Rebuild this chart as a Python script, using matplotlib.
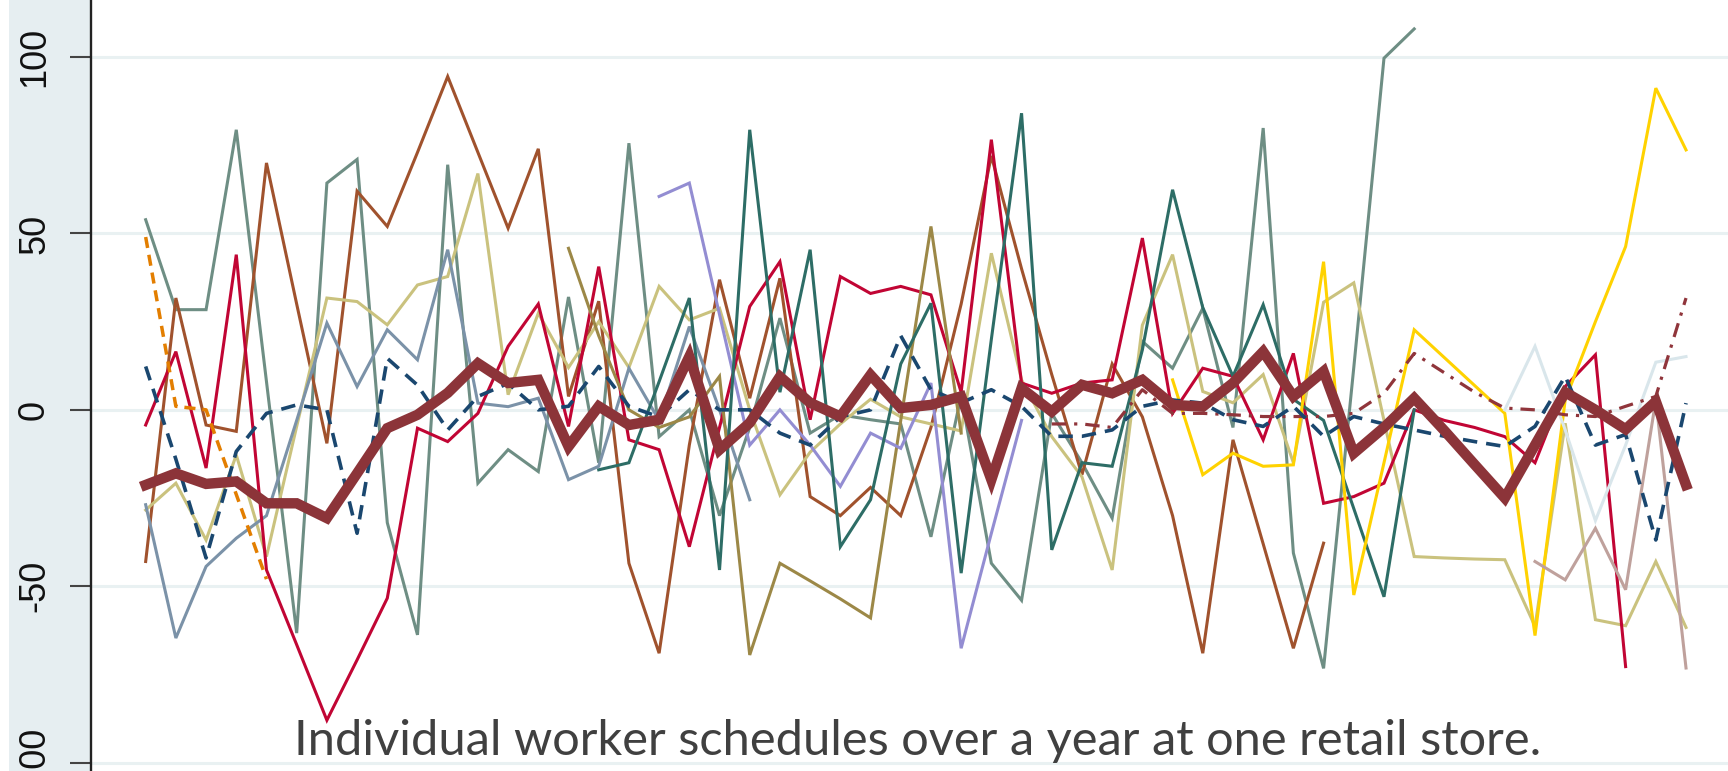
import matplotlib

matplotlib.use("Agg")

import matplotlib.pyplot as plt
import numpy as np
from matplotlib.patches import Rectangle

plt.rcParams["axes.unicode_minus"] = False

N = None
weeks = list(range(52))

# weekly deviation of hours from each worker's own average
mean_line = [-21.3, -18, -21, -20.3, -26.5, -26.5, -30.7, -18, -5.2, -1.4,
             4.8, 13.2, 7.6, 8.5, -10.4, 1, -4.3, -2.8, 15.1, -11.3,
             -3.7, 9.4, 2, -1.9, 9.9, 0.5, 1.4, 3.8, -19.8, 6.1,
             -0.5, 7.1, 4.7, 8.5, 1.4, 0.9, 7.6, 16.5, 3.8, 10.9,
             -12.3, -5, 3.3, -5.9, -15.5, -25, -10, 5, 0, -5.5,
             2.4, -21.3]
navy = [12.3, -14, -42, -11.8, -1, 1.4, 0, -35, 14.6, 7,
        -5.7, 3.8, 7.5, 0, 1, 12.3, 1, -2, 5.7, 0,
        0, -6.6, -10, -2, 0, 21, 5.7, 2, 5.7, 1,
        -7.5, -7.5, -5.7, 1, 2.8, 1.9, -2.8, -4.7, 1, -7.5,
        -1.9, -4, -5.7, -7.5, -9, -10.4, -4.7, 9.5, -10, -7,
        -36.9, 1.9]
orange = [49, 1, 0, -24, -48] + [N] * 47
red = [-4.3, 16.5, -16.5, 44, -45.4, -66.6, -88, -70.9, -53.4, -5.2,
       -9, -1, 18, 30, -4.7, 40.6, -8.5, -11.3, -38.8, -5,
       29.3, 42, -2.8, 37.8, 33, 35, 32.6, 5, 76.6, 7.6,
       4.7, 7.6, 8.5, 48.7, -1, 11.8, 9.5, -8.5, 16, -26.5,
       -24.6, -20.8, 0, -3, -5, -7.6, -15, 6.6, 15.6, -72.8,
       N, N]
sienna = [-43, 31.7, -4.3, -6.1, 70, 30, -9.5, 62, 52, 73,
          94.5, 73, 51.5, 74, 3.8, 30.8, -43.5, -69, -10, 36.9,
          3.3, 37.3, -24.6, -30, -22, -30, -5, 30, 72, 40,
          10, -18.4, 13, -2, -30, -69, -8.5, -38, -67.6, -37.8] + [N] * 12
teal = [53.9, 28.4, 28.4, 79.4, 8, -63.3, 64.3, 71, -32, -63.8,
        69.5, -20.8, -11.3, -17.5, 32, -15, 75.6, -7.6, 0, -30,
        -5, 26, -6.6, -1.4, -2.8, -4, -36, 4, -43.5, -54,
        -1, -15, -30.7, 19.4, 11.8, 28.8, -5, 79.9, -40.6, -73.3,
        12, 99.7, 108] + [N] * 9
khaki = [-28.4, -20.8, -36.9, -12.8, -41.6, -4.7, 31.7, 30.7, 24.1, 35.4,
         37.8, 67, 4.3, 27.4, 12, 25, 12, 35, 25.5, 28.8,
         0, -24.1, -12, -4, 3, -2, -4, -6, 44.4, 8.5,
         -7.6, -19, -45.4, 24, 44, 5.2, 2, 10, -15, 30.5,
         36, -3, -41.6, -42, -42.3, -42.5, -61.4, -3.8, -59.5, -61.2,
         -43, -61.7]
emidblue = [-26.9, -64.7, -44.4, -36.4, -30, -3, 24.6, 6.6, 22.7, 14.2,
            45.4, 1.9, 0.9, 3.3, -19.8, -16, 11.8, -3, 23.6, 0,
            -25.5] + [N] * 31
lavender = [N] * 17 + [60.5, 64.3, 27, -10, 0, -10, -21.7, -6.6, -10.9,
                       7.6, -67.6, -35, -3] + [N] * 22
emerald = [N] * 15 + [-17, -15, 8, 31.7, -45.4,
                      79.4, 5, 45.4, -38.8, -25.5, 13, 30.2, -46.3, 20, 84.1,
                      -39.7, -15, -16, 17, 62.4, 29, 9.5, 29.8, 3, -3,
                      -28, -53, 0] + [N] * 9
olive = [N] * 14 + [45.8, 21, 0, -5, -2, 9.5, -69.5, -43.5, -48.5, -53.6,
                    -59, -3, 52, -6.6] + [N] * 24
gold = [N] * 34 + [8.5, -18.4, -12.3, -16, -15.6, 42, -52.5, -15, 22.7, 14.8,
                   6.9, -1, -64, 2.8, 25, 46.3, 91.2, 73.7]
erose = [N] * 46 + [-43, -48.2, -33.6, -51, 2.8, -73.2]
bluishgray = [N] * 45 + [0, 18, -5.7, -31.4, -10, 13.5, 15.1]
maroon_dash = [N] * 30 + [-4, -4, -5, 5.7, -1, -1, -1.4, -1.9, -1.9, -1.9,
                          -1, 4.7, 16, 10.5, 5, 0.5, 0, -1.4, -1.9, 1,
                          3.8, 31.7]

y_ticks = [100, 50, 0, -50, -100]
caption = "Individual worker schedules over a year at one retail store."

W, H = 1728, 771
fig = plt.figure(figsize=(W / 100, H / 100), dpi=100)
fig.patch.set_facecolor("white")
strip = Rectangle((9 / W, 0), (91 - 9) / W, 1, transform=fig.transFigure,
                  facecolor="#e6eef1", edgecolor="none")
strip.set_zorder(-10)
fig.add_artist(strip)

ax = fig.add_axes([91 / W, 0, 1 - 91 / W, 1])
ax.set_zorder(1)
ax.set_xlim(-1.81, 52.39)
ax.set_ylim(-102.4, 116.2)


def arr(values):
    return np.array([np.nan if v is None else v for v in values], dtype=float)


thin = 2.2
series = [
    (teal, "#6e8e84"),
    (sienna, "#a0522d"),
    (khaki, "#cac27e"),
    (emidblue, "#7b92a8"),
    (red, "#c10534"),
    (olive, "#9c8847"),
    (lavender, "#938dd2"),
    (emerald, "#2d6d66"),
    (gold, "#ffd200"),
    (erose, "#bfa19c"),
    (bluishgray, "#d9e6eb"),
]
for values, color in series:
    ax.plot(weeks, arr(values), color=color, lw=thin, solid_joinstyle="miter")

ax.plot(weeks, arr(orange), color="#e37e00", lw=2.5, dashes=(3.2, 2))
ax.plot(weeks, arr(maroon_dash), color="#90353b", lw=2.3, dashes=(4.5, 2.5, 1, 2.5))
ax.plot(weeks, arr(navy), color="#1a476f", lw=2.6, dashes=(4, 2.5))
ax.plot(weeks, arr(mean_line), color="#8c3439", lw=7.5, solid_joinstyle="miter",
        zorder=5)

ax.set_yticks(y_ticks)
ax.set_yticklabels([str(t) for t in y_ticks])
ax.set_xticks([])
ax.yaxis.grid(True, color="#e9f1f2", lw=2.2)
ax.set_axisbelow(True)
for side in ["top", "right", "bottom"]:
    ax.spines[side].set_visible(False)
ax.spines["left"].set_color("#222222")
ax.spines["left"].set_linewidth(1.7)
ax.tick_params(axis="y", length=15, width=1.5, color="#444444", pad=13,
               labelsize=26, labelrotation=90, labelcolor="#111111")
for lab in ax.get_yticklabels():
    lab.set_fontfamily("Liberation Sans")
    lab.set_va("center")

txt = fig.text(294 / W, 16 / H, caption, fontfamily="Lato", fontsize=36,
               color="#404040", ha="left", va="baseline", zorder=10)
fig.canvas.draw()
width = txt.get_window_extent().width
txt.set_fontsize(36 * 1246 / width)

fig.savefig("out.png", dpi=100, facecolor="white")
